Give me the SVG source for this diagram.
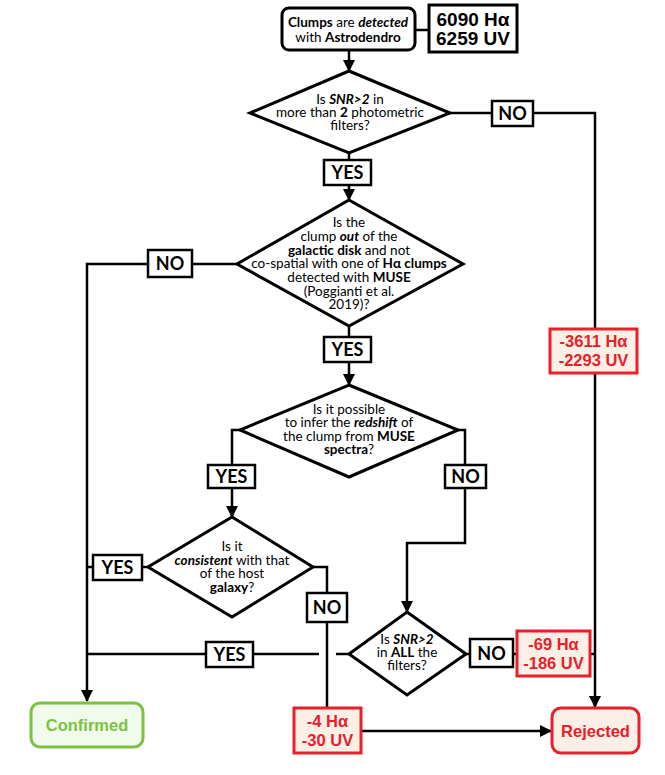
<svg xmlns="http://www.w3.org/2000/svg" width="665" height="775" viewBox="0 0 665 775">
<style>
.ln{fill:none;stroke:#000;stroke-width:2.5}
.dia{fill:#fff;stroke:#000;stroke-width:3;stroke-linejoin:miter}
.lbl{fill:#fff;stroke:#000;stroke-width:2.5}
.lt{font-family:Lato,"Liberation Sans",sans-serif;font-weight:bold;font-size:18px;fill:#000;text-anchor:middle}
.q{font-family:Lato,"Open Sans",sans-serif;font-size:13px;fill:#000;text-anchor:middle}
.q2{font-family:Lato,"Open Sans",sans-serif;font-size:13.5px;fill:#000;text-anchor:middle}
.b{font-weight:bold}
.bi{font-weight:bold;font-style:italic}
.cnt{font-family:"Liberation Sans",Arial,sans-serif;font-weight:bold;font-size:19px;fill:#000;text-anchor:middle}
.red{fill:#fbefe6;stroke:#e8202a;stroke-width:3}
.rt{font-family:"Liberation Sans",Arial,sans-serif;font-weight:bold;font-size:16.5px;fill:#e8202a;text-anchor:middle}
</style>
<defs>
<marker id="ah" markerUnits="userSpaceOnUse" markerWidth="12" markerHeight="12" refX="11" refY="6" orient="auto">
<path d="M0,0 L12,6 L0,12 Z" fill="#000"/>
</marker>
</defs>
<g id="connectors">
<line class="ln" x1="415" y1="30" x2="429" y2="30"/>
<line class="ln" x1="349" y1="50" x2="349" y2="71" marker-end="url(#ah)"/>
<line class="ln" x1="450" y1="113" x2="492" y2="113"/>
<polyline class="ln" points="533,113 595,113 595,707" marker-end="url(#ah)"/>
<line class="ln" x1="349" y1="153" x2="349" y2="160"/>
<line class="ln" x1="349" y1="185" x2="349" y2="200" marker-end="url(#ah)"/>
<line class="ln" x1="237" y1="264" x2="192" y2="264"/>
<polyline class="ln" points="148,264 87,264 87,701" marker-end="url(#ah)"/>
<line class="ln" x1="349" y1="326" x2="349" y2="337"/>
<line class="ln" x1="349" y1="362" x2="349" y2="385" marker-end="url(#ah)"/>
<polyline class="ln" points="240,430 232,430 232,465"/>
<line class="ln" x1="232" y1="488" x2="232" y2="517" marker-end="url(#ah)"/>
<polyline class="ln" points="458,430 465,430 465,465"/>
<polyline class="ln" points="465,488 465,543 407,543 407,612" marker-end="url(#ah)"/>
<line class="ln" x1="148" y1="567" x2="142" y2="567"/>
<line class="ln" x1="93" y1="567" x2="87" y2="567"/>
<polyline class="ln" points="313,567 327,567 327,593"/>
<line class="ln" x1="327" y1="622" x2="327" y2="708"/>
<line class="ln" x1="349" y1="654" x2="336" y2="654"/>
<line class="ln" x1="319" y1="654" x2="253" y2="654"/>
<line class="ln" x1="206" y1="654" x2="87" y2="654"/>
<line class="ln" x1="466" y1="654" x2="470" y2="654"/>
<line class="ln" x1="513" y1="654" x2="517" y2="654"/>
<line class="ln" x1="590" y1="654" x2="595" y2="654"/>
<line class="ln" x1="362" y1="731" x2="551" y2="731" marker-end="url(#ah)"/>
</g>
<g id="start">
<rect x="282" y="8" width="133" height="42" rx="7" fill="#fff" stroke="#000" stroke-width="3"/>
<text class="q2" x="348" y="27"><tspan class="b">Clumps</tspan> are <tspan class="bi">detected</tspan></text>
<text class="q2" x="348" y="42">with <tspan class="b">Astrodendro</tspan></text>
</g>
<g id="count">
<rect x="429" y="5" width="88" height="47" fill="#fff" stroke="#000" stroke-width="3"/>
<text class="cnt" x="473" y="26">6090 Hα</text>
<text class="cnt" x="473" y="45">6259 UV</text>
</g>
<g id="d1">
<polygon class="dia" points="349,71 450,113 349,153 250,113"/>
<text class="q2" x="350" y="104">Is <tspan class="bi">SNR&gt;2</tspan> in</text>
<text class="q2" x="350" y="117">more than <tspan class="b">2</tspan> photometric</text>
<text class="q2" x="350" y="130">filters?</text>
</g>
<g id="no1">
<rect class="lbl" x="492" y="101" width="41" height="25"/>
<text class="lt" x="512.5" y="120">NO</text>
</g>
<g id="yes1">
<rect class="lbl" x="324" y="160" width="47" height="25"/>
<text class="lt" x="347.5" y="179">YES</text>
</g>
<g id="d2">
<polygon class="dia" points="349,200 463,264 349,326 237,264"/>
<text class="q2" x="349" y="227">Is the</text>
<text class="q2" x="349" y="241">clump <tspan class="bi">out</tspan>  of the</text>
<text class="q2" x="349" y="255"><tspan class="b">galactic disk</tspan> and not</text>
<text class="q2" x="349" y="268">co-spatial with one of <tspan class="b">Hα clumps</tspan></text>
<text class="q2" x="349" y="282">detected with <tspan class="b">MUSE</tspan></text>
<text class="q2" x="349" y="296">(Poggianti et al.</text>
<text class="q2" x="349" y="309">2019)?</text>
</g>
<g id="no2">
<rect class="lbl" x="148" y="250" width="44" height="27"/>
<text class="lt" x="170" y="270">NO</text>
</g>
<g id="yes2">
<rect class="lbl" x="324" y="337" width="47" height="25"/>
<text class="lt" x="347.5" y="356">YES</text>
</g>
<g id="d3">
<polygon class="dia" points="349,385 458,430 349,477 240,430"/>
<text class="q2" x="349" y="414">Is it possible</text>
<text class="q2" x="349" y="427">to infer the <tspan class="bi">redshift</tspan> of</text>
<text class="q2" x="349" y="441">the clump from <tspan class="b">MUSE</tspan></text>
<text class="q2" x="349" y="454"><tspan class="b">spectra</tspan>?</text>
</g>
<g id="yes3">
<rect class="lbl" x="208" y="465" width="47" height="23"/>
<text class="lt" x="231.5" y="483">YES</text>
</g>
<g id="no3">
<rect class="lbl" x="445" y="465" width="41" height="23"/>
<text class="lt" x="465.5" y="483">NO</text>
</g>
<g id="d4">
<polygon class="dia" points="232,517 313,567 232,617 148,567"/>
<text class="q2" x="232" y="551">Is it</text>
<text class="q2" x="232" y="565"><tspan class="bi">consistent</tspan> with that</text>
<text class="q2" x="232" y="578">of the host</text>
<text class="q2" x="232" y="592"><tspan class="b">galaxy</tspan>?</text>
</g>
<g id="yes4">
<rect class="lbl" x="93" y="555" width="49" height="25"/>
<text class="lt" x="117.5" y="574">YES</text>
</g>
<g id="no4">
<rect class="lbl" x="307" y="593" width="40" height="29"/>
<text class="lt" x="327" y="614">NO</text>
</g>
<g id="d5">
<polygon class="dia" points="407,612 466,654 407,695 349,654"/>
<text class="q2" x="407" y="644">Is <tspan class="bi">SNR&gt;2</tspan></text>
<text class="q2" x="407" y="657">in <tspan class="b">ALL</tspan> the</text>
<text class="q2" x="407" y="670">filters?</text>
</g>
<g id="yes5">
<rect class="lbl" x="206" y="642" width="47" height="25"/>
<text class="lt" x="229.5" y="661">YES</text>
</g>
<g id="no5">
<rect class="lbl" x="470" y="639" width="43" height="28"/>
<text class="lt" x="491.5" y="660">NO</text>
</g>
<g id="r3611">
<rect class="red" x="550" y="329" width="87" height="44"/>
<text class="rt" x="593.5" y="347">-3611 Hα</text>
<text class="rt" x="593.5" y="366">-2293 UV</text>
</g>
<g id="r69">
<rect class="red" x="517" y="631" width="73" height="45"/>
<text class="rt" x="553.5" y="650">-69 Hα</text>
<text class="rt" x="553.5" y="669">-186 UV</text>
</g>
<g id="r4">
<rect class="red" x="294" y="708" width="67" height="45"/>
<text class="rt" x="327.5" y="727">-4 Hα</text>
<text class="rt" x="327.5" y="746">-30 UV</text>
</g>
<g id="confirmed">
<rect x="31" y="703" width="112" height="44" rx="9" fill="#f1fbec" stroke="#7dc242" stroke-width="3"/>
<text x="87" y="731" style="font-family:'Liberation Sans',Arial,sans-serif;font-weight:bold;font-size:16.5px;fill:#7dc242;text-anchor:middle">Confirmed</text>
</g>
<g id="rejected">
<rect x="552" y="708" width="87" height="45" rx="9" fill="#fbefe6" stroke="#e8202a" stroke-width="3"/>
<text class="rt" x="595.5" y="737">Rejected</text>
</g>
</svg>
